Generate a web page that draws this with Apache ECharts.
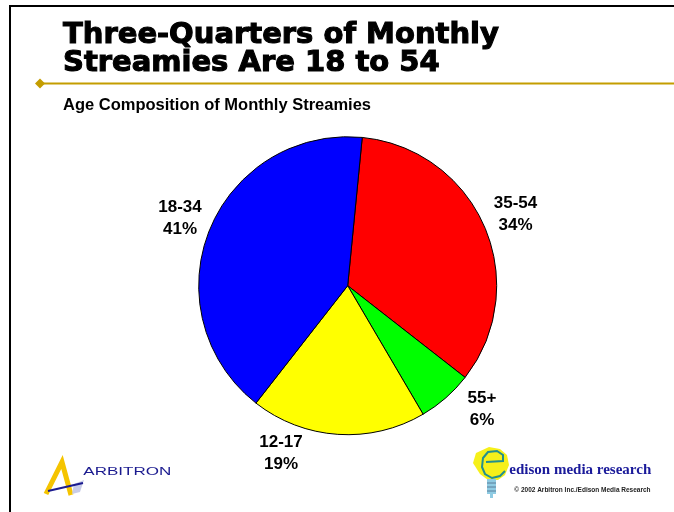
<!DOCTYPE html>
<html>
<head>
<meta charset="utf-8">
<script src="https://cdn.jsdelivr.net/npm/echarts@6/dist/echarts.min.js"></script>
<style>
html,body{margin:0;padding:0;background:#fff;}
#chart{width:674px;height:512px;}
</style>
</head>
<body>
<div id="chart"></div>
<script>
// ---- data ----
const categories = ['35-54', '55+', '12-17', '18-34'];
const values = [34, 6, 19, 41];
const sliceColors = ['#ff0000', '#00ff00', '#ffff00', '#0000ff'];
const titleText = 'Three-Quarters of Monthly\nStreamies Are 18 to 54';
const subtitleText = 'Age Composition of Monthly Streamies';

// ---- layout ----
const CX = 347.7, CY = 285.7, R = 149;
// label block centre offsets from pie centre
const labelOffsets = [[167.8, -71.2], [134.3, 123.3], [-66.7, 167.3], [-167.7, -67.7]];

const chart = echarts.init(document.getElementById('chart'), null, {renderer: 'canvas'});

const option = {
  animation: false,
  backgroundColor: '#ffffff',
  series: [{
    type: 'pie',
    center: [CX, CY],
    radius: R,
    startAngle: 84.4,
    clockwise: true,
    avoidLabelOverlap: false,
    itemStyle: {borderColor: '#000', borderWidth: 1},
    emphasis: {disabled: true},
    label: {
      show: true,
      position: 'outside',
      formatter: '{b}\n{c}%',
      color: '#000',
      fontFamily: 'Liberation Sans, Arial, sans-serif',
      fontWeight: 'bold',
      fontSize: 17,
      lineHeight: 22,
      align: 'center'
    },
    labelLine: {show: false},
    labelLayout: function (params) {
      const o = labelOffsets[params.dataIndex];
      return {x: CX + o[0], y: CY + o[1], align: 'center', verticalAlign: 'middle'};
    },
    data: categories.map((c, i) => ({name: c, value: values[i], itemStyle: {color: sliceColors[i]}}))
  }],
  graphic: [
    // page frame
    {type: 'line', shape: {x1: 10, y1: 6, x2: 674, y2: 6}, style: {stroke: '#000', lineWidth: 2}},
    {type: 'line', shape: {x1: 10, y1: 5, x2: 10, y2: 512}, style: {stroke: '#000', lineWidth: 2}},
    // title
    {type: 'text', x: 63, y: 49.5, style: {
      text: titleText, fontFamily: 'DejaVu Sans, sans-serif', fontWeight: 'bold',
      fontSize: 29, lineHeight: 28.4, fill: '#000', stroke: '#000', lineWidth: 1.1,
      verticalAlign: 'middle'
    }},
    // gold rule + diamond
    {type: 'line', shape: {x1: 40, y1: 83.5, x2: 674, y2: 83.5}, style: {stroke: '#c49d00', lineWidth: 2.2}},
    {type: 'polygon', shape: {points: [[35, 83.5], [40, 78.5], [45, 83.5], [40, 88.5]]}, style: {fill: '#c49d00'}},
    // subtitle
    {type: 'text', x: 63, y: 105, style: {
      text: subtitleText, fontFamily: 'Liberation Sans, Arial, sans-serif', fontWeight: 'bold',
      fontSize: 16.5, fill: '#000', verticalAlign: 'middle'
    }},
    // Arbitron logo
    {type: 'polyline', shape: {points: [[46, 494], [62, 462], [71, 495]]}, style: {stroke: '#f5c400', lineWidth: 5, lineJoin: 'miter', fill: null}},
    {type: 'polygon', shape: {points: [[74, 484], [84, 480], [80, 492], [72, 494]]}, style: {fill: '#c8cce8'}},
    {type: 'line', shape: {x1: 48, y1: 491, x2: 83, y2: 483}, style: {stroke: '#1b1b8f', lineWidth: 2}},
    {type: 'text', x: 83.3, y: 471.5, scaleX: 1.48, style: {
      text: 'ARBITRON', fontFamily: 'Liberation Sans, Arial, sans-serif', fontSize: 11.5,
      fill: '#1b1b8f', verticalAlign: 'middle'
    }},
    // Edison logo
    {type: 'polygon', shape: {points: [[476, 453], [489, 447], [500, 449], [507, 455], [509, 465], [505, 475], [498, 480], [488, 480], [480, 474], [473, 463]]}, style: {fill: '#f6f01a'}},
    {type: 'polyline', shape: {points: [[486, 462], [503, 461], [503, 455], [497, 451], [488, 452], [483, 458], [482, 467], [485, 474], [492, 478], [500, 476], [505, 471]]}, style: {stroke: '#238f8f', lineWidth: 2, fill: null}},
    {type: 'rect', shape: {x: 487, y: 479, width: 9, height: 15}, style: {fill: '#8fcbe3'}},
    {type: 'line', shape: {x1: 487, y1: 483, x2: 496, y2: 483}, style: {stroke: '#5a7f9a', lineWidth: 1}},
    {type: 'line', shape: {x1: 487, y1: 487, x2: 496, y2: 487}, style: {stroke: '#5a7f9a', lineWidth: 1}},
    {type: 'line', shape: {x1: 487, y1: 491, x2: 496, y2: 491}, style: {stroke: '#5a7f9a', lineWidth: 1}},
    {type: 'rect', shape: {x: 490, y: 494, width: 3, height: 4}, style: {fill: '#8fcbe3'}},
    {type: 'text', x: 509.3, y: 470, style: {
      text: 'edison media research', fontFamily: 'Liberation Serif, Times New Roman, serif', fontWeight: 'bold',
      fontSize: 15, fill: '#1a1a9a', verticalAlign: 'middle'
    }},
    {type: 'text', x: 514.3, y: 490.7, style: {
      text: '\u00A9 2002 Arbitron Inc./Edison Media Research', fontFamily: 'Liberation Sans, Arial, sans-serif', fontWeight: 'bold',
      fontSize: 6.5, fill: '#222', verticalAlign: 'middle'
    }}
  ]
};
chart.setOption(option);
</script>
</body>
</html>
